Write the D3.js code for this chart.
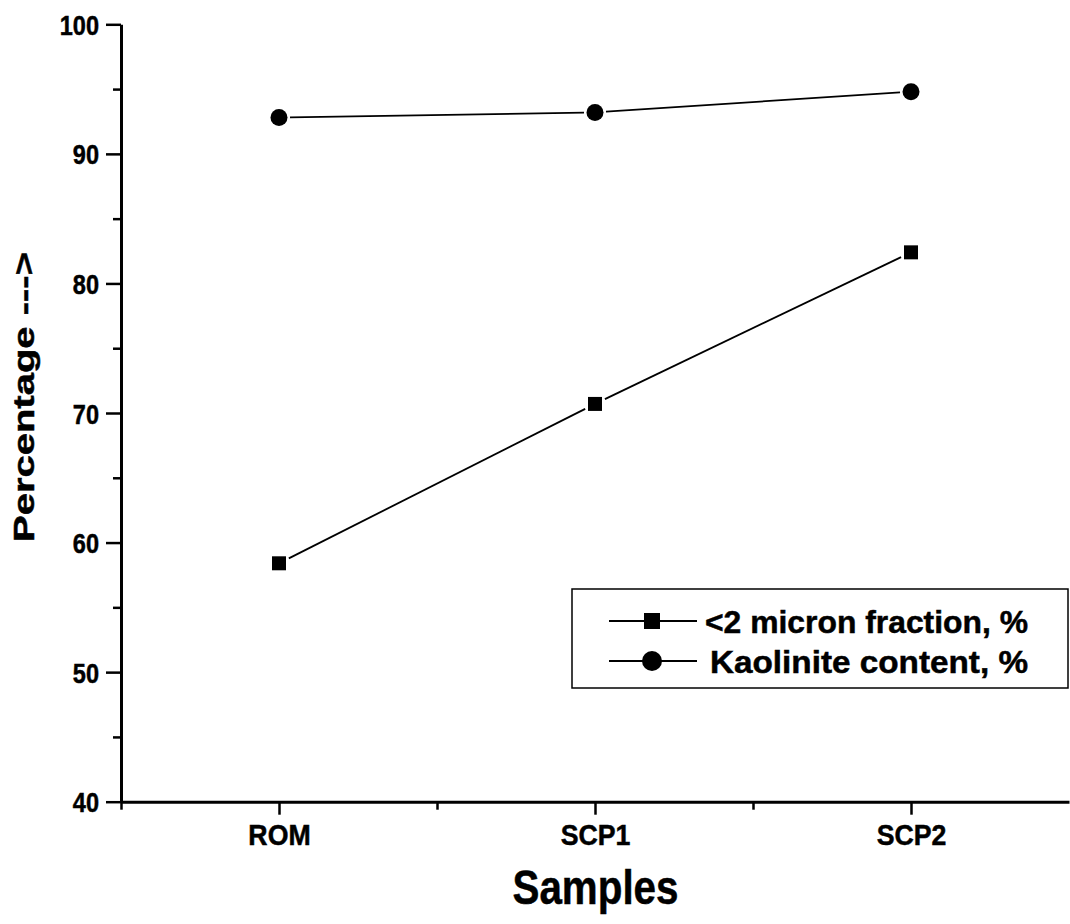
<!DOCTYPE html>
<html>
<head>
<meta charset="utf-8">
<script src="https://cdn.jsdelivr.net/npm/d3@7"></script>
<style>
  html, body { margin: 0; padding: 0; background: #fff; }
  svg text { font-family: "Liberation Sans", Arial, sans-serif; font-weight: bold; fill: #000; stroke: #000; stroke-width: 0.5px; }
</style>
</head>
<body>
<script>
// Sample categories and measured percentages
const categories = ["ROM", "SCP1", "SCP2"];
const micronFraction = [58.4, 70.7, 82.4];    // <2 micron fraction, %
const kaoliniteContent = [92.8, 93.2, 94.8];  // Kaolinite content, %
const yTicks = [40, 50, 60, 70, 80, 90, 100];
const yMinorTicks = [45, 55, 65, 75, 85, 95];
const seriesNames = ["<2 micron fraction, %", "Kaolinite content, %"];

const W = 1070, H = 924;
const svg = d3.select("body").append("svg").attr("width", W).attr("height", H);

const x = d3.scaleLinear().domain([0.5, 3.5]).range([121, 1069]);
const y = d3.scaleLinear().domain([40, 100]).range([801.7, 24.3]);

// Squeeze glyphs horizontally a little (narrow sans look)
function squeeze(sel, k) {
  sel.each(function () {
    const len = this.getComputedTextLength();
    d3.select(this).attr("textLength", len * k).attr("lengthAdjust", "spacingAndGlyphs");
  });
}

// Y axis: minor then major ticks
const gyMinor = svg.append("g").attr("transform", "translate(121,0)")
  .call(d3.axisLeft(y).tickValues(yMinorTicks).tickSize(8).tickSizeOuter(0).tickFormat(""));
gyMinor.select(".domain").remove();
gyMinor.selectAll("line").attr("stroke", "#000").attr("stroke-width", 2.5);

const gy = svg.append("g").attr("transform", "translate(121,0)")
  .call(d3.axisLeft(y).tickValues(yTicks).tickSize(15).tickSizeOuter(0).tickPadding(7));
gy.select(".domain").attr("stroke", "#000").attr("stroke-width", 3);
gy.selectAll("line").attr("stroke", "#000").attr("stroke-width", 2.5);
gy.selectAll("text").attr("font-size", 28).attr("dy", "0.36em");
squeeze(gy.selectAll("text"), 0.84);

// X axis: minor then major ticks
const gxMinor = svg.append("g").attr("transform", "translate(0,801.7)")
  .call(d3.axisBottom(x).tickValues([0.5, 1.5, 2.5]).tickSize(8).tickSizeOuter(0).tickFormat(""));
gxMinor.select(".domain").remove();
gxMinor.selectAll("line").attr("stroke", "#000").attr("stroke-width", 2.5);

const gx = svg.append("g").attr("transform", "translate(0,801.7)")
  .call(d3.axisBottom(x).tickValues([1, 2, 3]).tickSize(13).tickSizeOuter(0).tickPadding(10)
    .tickFormat(d => categories[d - 1]));
gx.select(".domain").attr("stroke", "#000").attr("stroke-width", 3);
gx.selectAll("line").attr("stroke", "#000").attr("stroke-width", 2.5);
gx.selectAll("text").attr("font-size", 29).attr("dy", "0.71em");
squeeze(gx.selectAll("text"), 0.92);

// Axis titles
svg.append("text")
  .attr("x", 595.5).attr("y", 904)
  .attr("text-anchor", "middle").attr("font-size", 48)
  .attr("textLength", 166).attr("lengthAdjust", "spacingAndGlyphs")
  .text("Samples");

svg.append("text")
  .attr("transform", "translate(34,397) rotate(-90)")
  .attr("text-anchor", "middle").attr("font-size", 30)
  .attr("textLength", 290).attr("lengthAdjust", "spacingAndGlyphs")
  .text("Percentage --->");

// Line segments between points, leaving a small gap around each marker
const GAP = 11;
function drawSeries(values) {
  const pts = values.map((v, i) => [x(i + 1), y(v)]);
  const segs = d3.pairs(pts).map(([a, b]) => {
    const dx = b[0] - a[0], dy = b[1] - a[1], L = Math.hypot(dx, dy);
    const ux = dx / L, uy = dy / L;
    return [[a[0] + ux * GAP, a[1] + uy * GAP], [b[0] - ux * GAP, b[1] - uy * GAP]];
  });
  svg.append("g").selectAll("line").data(segs).join("line")
    .attr("x1", d => d[0][0]).attr("y1", d => d[0][1])
    .attr("x2", d => d[1][0]).attr("y2", d => d[1][1])
    .attr("stroke", "#000").attr("stroke-width", 1.8);
  return pts;
}

const sym = {
  square: s => d3.symbol().type(d3.symbolSquare).size(s * s)(),
  circle: r => d3.symbol().type(d3.symbolCircle).size(Math.PI * r * r)()
};

const ptsM = drawSeries(micronFraction);
svg.append("g").selectAll("path").data(ptsM).join("path")
  .attr("transform", d => `translate(${d[0]},${d[1]})`)
  .attr("d", sym.square(14)).attr("fill", "#000");

const ptsK = drawSeries(kaoliniteContent);
svg.append("g").selectAll("path").data(ptsK).join("path")
  .attr("transform", d => `translate(${d[0]},${d[1]})`)
  .attr("d", sym.circle(8.5)).attr("fill", "#000");

// Legend
const legend = svg.append("g");
legend.append("rect")
  .attr("x", 572).attr("y", 589).attr("width", 496).attr("height", 99)
  .attr("fill", "#fff").attr("stroke", "#000").attr("stroke-width", 1.5);

const rows = [
  { name: seriesNames[0], d: sym.square(16), y: 621, len: 323, x0: 705 },
  { name: seriesNames[1], d: sym.circle(10), y: 661, len: 318, x0: 710 }
];
rows.forEach(r => {
  legend.append("line").attr("x1", 609).attr("x2", 697).attr("y1", r.y).attr("y2", r.y)
    .attr("stroke", "#000").attr("stroke-width", 1.8);
  legend.append("path").attr("transform", `translate(652,${r.y})`).attr("d", r.d).attr("fill", "#000");
  legend.append("text").attr("x", r.x0).attr("y", r.y).attr("dy", "0.36em")
    .attr("font-size", 32).attr("textLength", r.len).attr("lengthAdjust", "spacingAndGlyphs")
    .text(r.name);
});
</script>
</body>
</html>
